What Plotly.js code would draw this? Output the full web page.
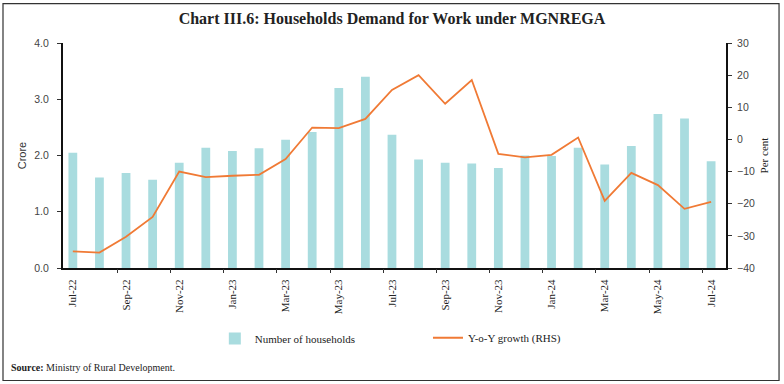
<!DOCTYPE html>
<html>
<head>
<meta charset="utf-8">
<script src="https://cdn.plot.ly/plotly-3.0.1.min.js"></script>
<style>html,body{margin:0;padding:0;background:#fff;}#chart{width:784px;height:384px;}</style>
</head>
<body>
<div id="chart"></div>
<script>
const months = ['Jul-22','Aug-22','Sep-22','Oct-22','Nov-22','Dec-22','Jan-23','Feb-23','Mar-23','Apr-23','May-23','Jun-23','Jul-23','Aug-23','Sep-23','Oct-23','Nov-23','Dec-23','Jan-24','Feb-24','Mar-24','Apr-24','May-24','Jun-24','Jul-24'];
const households = [2.05,1.61,1.69,1.57,1.87,2.14,2.08,2.13,2.28,2.42,3.20,3.40,2.37,1.93,1.87,1.86,1.78,2.00,1.99,2.14,1.84,2.17,2.74,2.66,1.90];
const yoyGrowth = [-34.8,-35.2,-30.3,-24.1,-10.0,-11.7,-11.3,-11.0,-6.1,3.7,3.5,6.4,15.4,20.0,11.1,18.5,-4.5,-5.6,-4.8,0.6,-19.1,-10.4,-14.2,-21.6,-19.4];
const tickLabels = months.filter((m,i)=>i%2===0);
const boundaryTicks = [1.67,3.67,5.67,7.67,9.67,11.67,13.67,15.67,17.67,19.67,21.67,23.67];

const serif = 'Liberation Serif, DejaVu Serif, serif';
const sans = 'Liberation Sans, DejaVu Sans, sans-serif';

const traces = [
  {type:'bar', x:months, y:households, name:'Number of households', width:0.33,
   marker:{color:'#a9dcdf'}, legend:'legend', yaxis:'y'},
  {type:'scatter', mode:'lines', x:months, y:yoyGrowth, name:'Y-o-Y growth (RHS)',
   line:{color:'#f07a35', width:1.8}, yaxis:'y2', legend:'legend2'},
  {type:'scatter', x:[0], y:[0], xaxis:'x2', yaxis:'y', showlegend:false, hoverinfo:'skip',
   mode:'markers', marker:{opacity:0}}
];

const layout = {
  width:784, height:384,
  margin:{l:63, r:58, t:43, b:116},
  paper_bgcolor:'#fff', plot_bgcolor:'#fff',
  title:{text:'<b>Chart III.6: Households Demand for Work under MGNREGA</b>',
         font:{family:serif, size:16, color:'#222'}, x:0.5, xanchor:'center', y:0.952, yanchor:'middle'},
  xaxis:{type:'category', range:[-0.37,24.56], tickmode:'array', tickvals:tickLabels, ticktext:tickLabels,
         tickangle:-90, ticks:'', ticklabelstandoff:5, showline:true, linecolor:'#111', linewidth:2, showgrid:false,
         tickfont:{family:serif, size:11, color:'#222'}, fixedrange:true},
  xaxis2:{overlaying:'x', anchor:'y', side:'bottom', range:[-0.37,24.56], tickmode:'array', tickvals:boundaryTicks,
          ticks:'outside', ticklen:4, tickcolor:'#333', showticklabels:false, showgrid:false, zeroline:false, showline:false},
  yaxis:{range:[0,4], dtick:1, tickformat:'.1f', ticks:'outside', ticklen:4, tickcolor:'#333', ticklabelstandoff:6,
         showline:true, linecolor:'#111', linewidth:2, showgrid:false, zeroline:false,
         tickfont:{family:sans, size:10.5, color:'#444'},
         title:{text:'Crore', font:{family:sans, size:11, color:'#333'}, standoff:5}},
  yaxis2:{range:[-40,30], dtick:10, overlaying:'y', side:'right', ticks:'outside', ticklen:4, tickcolor:'#333', ticklabelstandoff:3,
          showline:true, linecolor:'#111', linewidth:2, showgrid:false, zeroline:false,
          tickfont:{family:sans, size:10.5, color:'#444'},
          title:{text:'Per cent', font:{family:serif, size:11, color:'#222'}, standoff:6}},
  showlegend:true,
  legend:{x:0.229, y:-0.313, xanchor:'left', yanchor:'middle', orientation:'h', font:{family:serif, size:11, color:'#222'}, bgcolor:'rgba(0,0,0,0)'},
  legend2:{x:0.5505, y:-0.31, xanchor:'left', yanchor:'middle', orientation:'h', font:{family:serif, size:11, color:'#222'}, bgcolor:'rgba(0,0,0,0)'},
  annotations:[
    {text:'<b>Source:</b> Ministry of Rural Development.', xref:'paper', yref:'paper', x:-0.081, y:-0.4425,
     xanchor:'left', yanchor:'middle', showarrow:false, font:{family:serif, size:10, color:'#222'}}
  ],
  shapes:[
    {type:'rect', xref:'paper', yref:'paper', x0:-0.0905, x1:1.080, y0:-0.5, y1:1.175, line:{color:'#333', width:1.2}}
  ]
};

Plotly.newPlot('chart', traces, layout, {displayModeBar:false, staticPlot:true});
</script>
</body>
</html>
